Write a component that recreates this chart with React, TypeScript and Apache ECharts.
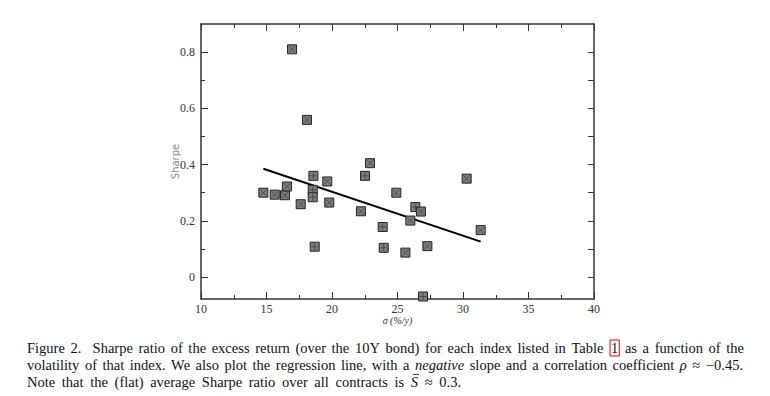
import React, { useEffect, useRef } from "react";
import * as echarts from "echarts";

const sigma = [16.95, 18.09, 14.76, 15.63, 16.41, 16.56, 17.61, 18.58, 18.53, 18.53, 18.68, 19.64, 19.79, 22.21, 22.52, 22.9, 23.87, 23.95, 24.91, 25.6, 25.98, 26.36, 26.79, 26.95, 27.28, 30.28, 31.35];
const sharpe = [0.81, 0.559, 0.3, 0.293, 0.291, 0.322, 0.259, 0.36, 0.31, 0.284, 0.108, 0.34, 0.265, 0.234, 0.36, 0.405, 0.178, 0.104, 0.3, 0.087, 0.201, 0.249, 0.233, -0.069, 0.11, 0.35, 0.167];
// marker hatch kind: "x" diagonal cross, "+" straight cross
const hatch = ["x", "x", "x", "x", "x", "x", "x", "+", "+", "+", "+", "x", "x", "x", "+", "x", "+", "+", "x", "x", "x", "+", "x", "+", "x", "x", "x"];
const regX = [14.76, 31.35];
const regY = [0.385, 0.126];
const yMajorTicks = [0, 0.2, 0.4, 0.6, 0.8];
const yMinorTicks = [0.1, 0.3, 0.5, 0.7];
const yAllTicks = [0, 0.1, 0.2, 0.3, 0.4, 0.5, 0.6, 0.7, 0.8];

// caption lines; [..] = boxed reference, _.._ = italic, ~ = wider sentence gap
const captionLines = [
  "Figure 2.~ Sharpe ratio of the excess return (over the 10Y bond) for each index listed in Table [1] as a function of the",
  "volatility of that index. We also plot the regression line, with a _negative_ slope and a correlation coefficient _ρ_ ≈ −0.45.",
  "Note that the (flat) average Sharpe ratio over all contracts is _S_ ≈ 0.3.",
];

export default function App() {
  const ref = useRef<HTMLDivElement>(null);
  useEffect(() => {
    const chart = echarts.init(ref.current!, null, { renderer: "svg" });
    const serif = "Liberation Serif";
    const axisColor = "#333";
    const scatterData = sigma.map((x, i) => [x, sharpe[i]]);
    const xData = scatterData.filter((_, i) => hatch[i] === "x");
    const pData = scatterData.filter((_, i) => hatch[i] === "+");
    const regData = regX.map((x, i) => [x, regY[i]]);
    const tickStyle = { color: axisColor, width: 1 };
    const axisLine = { onZero: false, lineStyle: { color: axisColor, width: 1.5 } };

    // caption layout (spread like the LaTeX source)
    const capSize = 14.5;
    const canvas = document.createElement("canvas");
    const ctx = canvas.getContext("2d")!;
    const measure = (s: string, italic: boolean) => {
      ctx.font = (italic ? "italic " : "") + capSize + "px " + serif;
      return ctx.measureText(s).width;
    };
    const lineCfg = [
      { y: 348, left: 27, right: 744 },
      { y: 365, left: 27, right: 743 },
      { y: 382, left: 27, right: 461 },
    ];
    const graphics: any[] = [];
    captionLines.forEach((line, li) => {
      const cfg = lineCfg[li];
      const raw = line.split(" ");
      const words = raw.map((w) => {
        let text = w;
        let wide = false;
        if (text.endsWith("~")) { wide = true; text = text.slice(0, -1); }
        let kind = "t";
        if (text.startsWith("[") && text.endsWith("]")) { kind = "box"; text = text.slice(1, -1); }
        else if (text.startsWith("_") && text.endsWith("_")) { kind = "i"; text = text.slice(1, -1); }
        return { text, kind, wide, w: measure(text, kind === "i") + (kind === "box" ? 3 : 0) };
      });
      const total = words.reduce((a, b) => a + b.w, 0);
      let gapUnits = 0;
      words.forEach((w, i) => { if (i < words.length - 1) gapUnits += w.wide ? 2 : 1; });
      const gap = (cfg.right - cfg.left - total) / gapUnits;
      let x = cfg.left;
      words.forEach((w) => {
        const style: any = {
          text: w.text, x: 0, y: 0, fontFamily: serif, fontSize: capSize,
          fontStyle: w.kind === "i" ? "italic" : "normal", fill: "#111",
          verticalAlign: "middle", align: "left",
        };
        if (w.kind === "box") {
          style.borderColor = "#e00";
          style.borderWidth = 1;
          style.padding = [1, 1, 0, 1];
        }
        graphics.push({ type: "text", x: x + (w.kind === "box" ? 1 : 0), y: cfg.y, style, silent: true });
        if (w.kind === "i" && w.text === "S") {
          graphics.push({
            type: "line", silent: true,
            shape: { x1: x + 2, y1: cfg.y - 7.5, x2: x + w.w + 1, y2: cfg.y - 7.5 },
            style: { stroke: "#111", lineWidth: 0.8 },
          });
        }
        x += w.w + (w.wide ? 2 : 1) * gap;
      });
    });

    chart.setOption({
      animation: false,
      grid: { left: 201, right: 176, top: 24, bottom: 97, containLabel: false },
      xAxis: [
        {
          type: "value", min: 10, max: 40, interval: 5, position: "bottom",
          name: "σ (%/y)", nameLocation: "middle", nameGap: 16, nameMoveOverlap: false,
          nameTextStyle: { fontFamily: serif, fontStyle: "italic", fontSize: 10, color: "#333" },
          axisLine,
          axisTick: { inside: true, length: 7, lineStyle: tickStyle },
          minorTick: { show: true, splitNumber: 2, length: 4, lineStyle: tickStyle },
          axisLabel: { fontFamily: serif, fontSize: 12, color: "#333", margin: 4 },
          splitLine: { show: false },
        },
        {
          type: "value", min: 10, max: 40, interval: 5, position: "top",
          axisLine,
          axisTick: { inside: true, length: 7, lineStyle: tickStyle },
          minorTick: { show: true, splitNumber: 2, length: 4, lineStyle: tickStyle },
          axisLabel: { show: false },
          splitLine: { show: false },
        },
      ],
      yAxis: [
        {
          type: "value", min: -0.078, max: 0.9, position: "left",
          name: "Sharpe", nameLocation: "middle", nameGap: 21, nameMoveOverlap: false,
          nameTextStyle: { fontFamily: "DejaVu Sans", fontSize: 10, color: "#888" },
          axisLine,
          axisTick: { inside: true, length: 7, customValues: yMajorTicks, lineStyle: tickStyle },
          axisLabel: { fontFamily: serif, fontSize: 12, color: "#333", margin: 6, customValues: yMajorTicks },
          splitLine: { show: false },
        },
        {
          type: "value", min: -0.078, max: 0.9, position: "right",
          axisLine,
          axisTick: { inside: true, length: 6, customValues: yAllTicks, lineStyle: tickStyle },
          axisLabel: { show: false },
          splitLine: { show: false },
        },
        {
          type: "value", min: -0.078, max: 0.9, position: "left",
          axisLine: { show: false, onZero: false },
          axisTick: { inside: true, length: 4, customValues: yMinorTicks, lineStyle: tickStyle },
          axisLabel: { show: false },
          splitLine: { show: false },
        },
      ],
      series: [
        {
          type: "line", data: regData, xAxisIndex: 0, yAxisIndex: 0,
          showSymbol: false, symbol: "none",
          lineStyle: { color: "#000", width: 2 }, z: 3,
        },
        {
          type: "scatter", data: scatterData, xAxisIndex: 0, yAxisIndex: 0,
          symbol: "rect", symbolSize: 9,
          itemStyle: { color: "#7d7d7d", borderColor: "#222", borderWidth: 1, opacity: 1 },
          z: 4,
        },
        {
          type: "scatter", data: xData, xAxisIndex: 0, yAxisIndex: 0,
          symbol: "path://M0,0L10,10M10,0L0,10", symbolSize: 6,
          itemStyle: { color: "none", borderColor: "#3a3a3a", borderWidth: 0.7, opacity: 1 },
          z: 5, silent: true,
        },
        {
          type: "scatter", data: pData, xAxisIndex: 0, yAxisIndex: 0,
          symbol: "path://M5,0L5,10M0,5L10,5", symbolSize: 7,
          itemStyle: { color: "none", borderColor: "#3a3a3a", borderWidth: 0.7, opacity: 1 },
          z: 5, silent: true,
        },
      ],
      graphic: graphics,
    });
    return () => chart.dispose();
  }, []);
  return <div ref={ref} style={{ width: 770, height: 396, position: "absolute", left: 0, top: 0 }} />;
}
